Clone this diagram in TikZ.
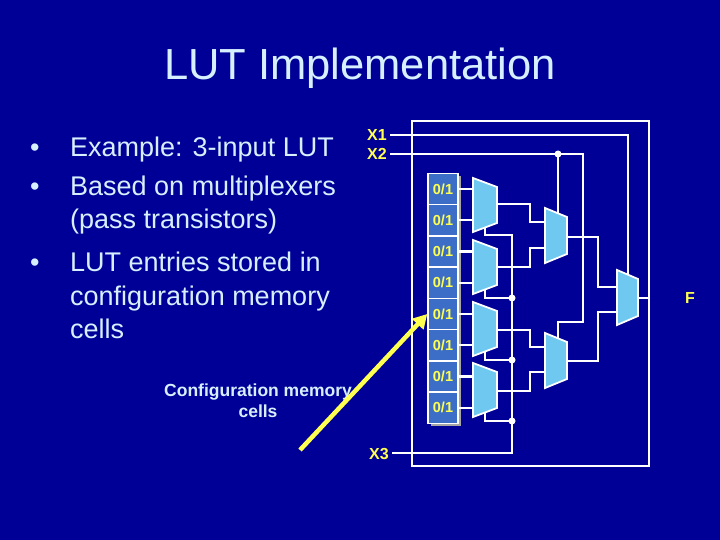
\documentclass[tikz,border=0pt]{standalone}
\usepackage{fontspec}
\setmainfont{Liberation Sans}
\usetikzlibrary{arrows.meta}
\definecolor{bg}{RGB}{0,0,150}
\definecolor{ttl}{RGB}{215,240,255}
\definecolor{cellc}{RGB}{60,110,200}
\definecolor{muxc}{RGB}{110,200,240}
\definecolor{ylw}{RGB}{255,255,80}
\begin{document}
\begin{tikzpicture}[x=1pt,y=-1pt,
  wire/.style={white,line width=2.2pt},
  cellbox/.style={draw=white,line width=1.5pt,fill=cellc,minimum width=30pt,minimum height=31.25pt,inner sep=0pt,font=\bfseries\fontsize{14.5}{14.5}\selectfont,text=ylw},
  muxshape/.style={draw=white,line width=1.8pt,fill=muxc},
  lbl/.style={text=ylw,font=\bfseries\fontsize{16}{16}\selectfont},
  btxt/.style={text=ttl,anchor=base west,inner sep=0pt,font=\fontsize{27}{27}\selectfont},
  dot/.style={circle,fill=white,inner sep=0pt,minimum size=7pt}]
\fill[bg] (0,0) rectangle (720,540);
\useasboundingbox (0,0) rectangle (720,540);
\node[text=ttl,font=\fontsize{43.5}{43.5}\selectfont] (title) at (360,68) {LUT Implementation};
\node[btxt] (u1) at (30,157) {•};
\node[btxt] (u2) at (30,196) {•};
\node[btxt] (u3) at (30,271) {•};
\node[btxt] (b1) at (70,157) {Example: 3-input LUT};
\node[btxt] (b2) at (70,196) {Based on multiplexers};
\node[btxt] (b3) at (70,229) {(pass transistors)};
\node[btxt] (b4) at (70,271) {LUT entries stored in};
\node[btxt] (b5) at (70,305) {configuration memory};
\node[btxt] (b6) at (70,338) {cells};
\node[text=ttl,align=center,font=\bfseries\fontsize{17.5}{21}\selectfont] (cfg) at (258,401) {Configuration memory\\cells};
% frame
\draw[wire] (412,121) rectangle (649,466);
% cells
\foreach \i in {0,...,7}{
  \fill[gray!70] (431,{176+31.25*\i}) rectangle (461,{176+31.25*(\i+1)});
  \node[cellbox] (c\i) at (443,{189+31.25*\i}) {0/1};
}
% muxes
\foreach \n/\y in {m1/178,m2/240,m3/302,m4/363}{
  \draw[muxshape] (473,\y) -- (497,\y+9) -- (497,\y+45) -- (473,\y+54) -- cycle;
  \coordinate (\n) at (473,\y);
}
\foreach \n/\y in {m5/208,m6/333}{
  \draw[muxshape] (545,\y) -- (567,\y+9) -- (567,\y+46) -- (545,\y+55) -- cycle;
  \coordinate (\n) at (545,\y);
}
\draw[muxshape] (617,270) -- (638,279) -- (638,316) -- (617,325) -- cycle;
\coordinate (m7) at (617,270);
% cell to mux inputs
\foreach \i in {0,...,7}{ \draw[wire] (c\i.east) -- ++(13,0); }
% stage 1 outputs
\draw[wire] (497,204) -- (530,204) |- (545,222);
\draw[wire] (497,267) -- (530,267) |- (545,248);
\draw[wire] (497,330) -- (530,330) |- (545,347);
\draw[wire] (497,391) -- (530,391) |- (545,372);
% stage 2 outputs
\draw[wire] (567,237) -- (598,237) |- (617,287);
\draw[wire] (567,361) -- (598,361) |- (617,312);
\coordinate (fo) at (649,298);
\draw[wire] (638,298) -- (fo);
% X3 selects
\node[lbl] (x3) at (379,454) {X3};
\draw[wire] (x3.east |- 0,453) -- (512,453) -- (512,235) -- (485,235) -- (485,228);
\draw[wire] (485,290) -- (485,298) -- (512,298);
\draw[wire] (485,352) -- (485,360) -- (512,360);
\draw[wire] (485,413) -- (485,421) -- (512,421);
\node[dot] (d1) at (512,298) {};
\node[dot] (d2) at (512,360) {};
\node[dot] (d3) at (512,421) {};
% X2
\node[lbl] (x2) at (377,154) {X2};
\draw[wire] (x2.east) -- (583,154) -- (583,322) -- (558,322) -- (558,338);
\draw[wire] (558,154) -- (558,213);
\node[dot] (d4) at (558,154) {};
% X1
\node[lbl] (x1) at (377,135) {X1};
\draw[wire] (x1.east) -- (628,135) -- (628,275);
\node[lbl] (f) at (690,298) {F};
% arrow
\coordinate (as) at (300,450);
\draw[ylw,line width=4.5pt,-{Triangle[length=14pt,width=15pt]}] (as) -- (c4.west);
\end{tikzpicture}
\end{document}
